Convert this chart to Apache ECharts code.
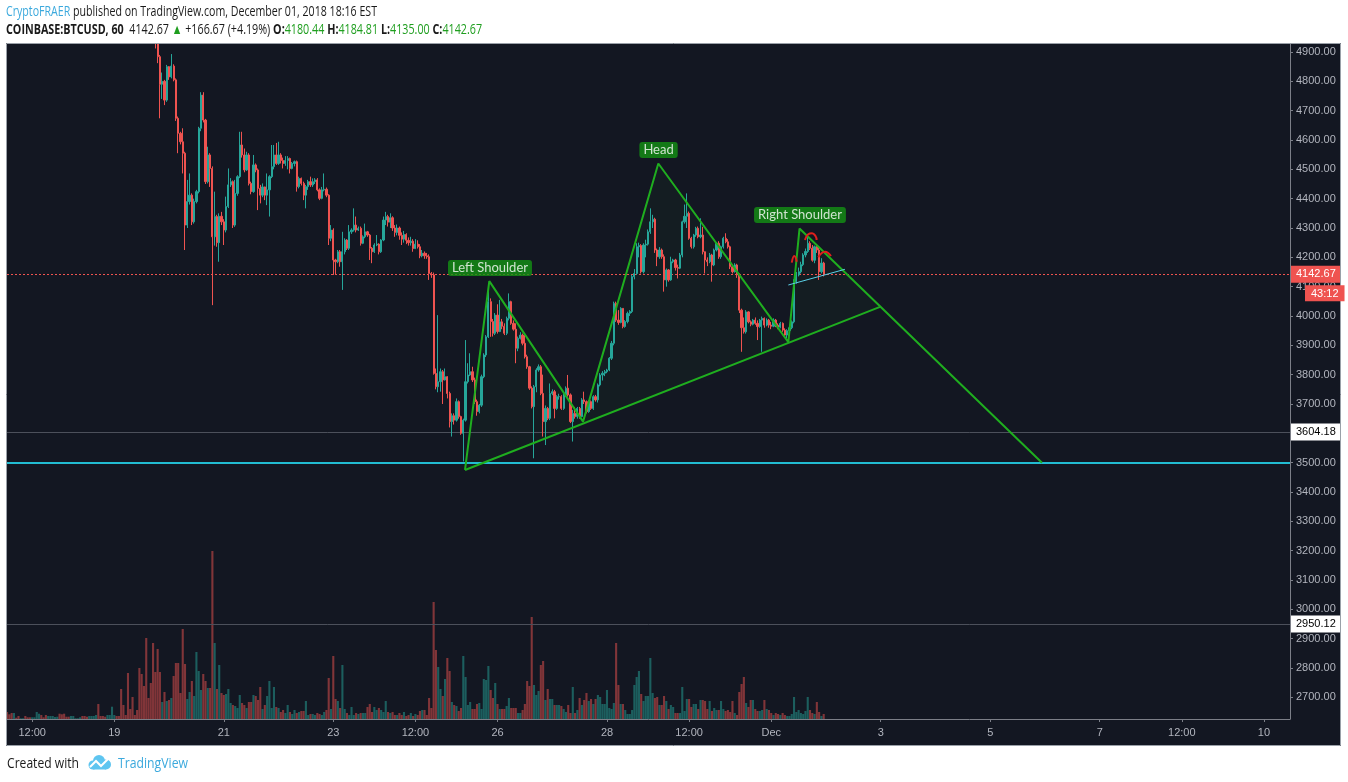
<!DOCTYPE html>
<html>
<head>
<meta charset="utf-8">
<script src="https://cdn.jsdelivr.net/npm/echarts@6/dist/echarts.min.js"></script>
<style>
html,body{margin:0;padding:0;background:#fff;}
#chart{width:1348px;height:782px;}
</style>
</head>
<body>
<div id="chart"></div>
<script>
// ---------- DATA ----------
// hourly candles, COINBASE:BTCUSD, first candle = Nov 17 01:00 (hour -47 relative to Nov 19 00:00)
const START_HOUR = -47;
const FIRST_OPEN = 5605;
const closes = [
 5600,5596,5590,5594,5588,5582,5585,5590,5587,5580,5576,5579,5584,5590,5595,5592,5586,5580,5583,5589,
 5594,5598,5603,5600,5595,5590,5586,5580,5584,5590,5597,5604,5610,5606,5600,5596,5602,5608,5615,5620,
 5616,5610,5605,5600,5606,5612,5618,
 5622,5615,5608,5600,5560,5520,5480,5450,5420,5380,5330,5270,5200,5150,5100,5060,5020,4985,
 4930,4884,4790,4800,4736,4850,4815,4852,4805,4674,
 4623,4594,4555,4310,4390,4412,4321,4390,4424,4640,
 4753,4668,4458,4549,4503,4270,4339,4250,4340,4321,
 4293,4373,4447,4458,4310,4418,4475,4583,4549,4498,
 4549,4452,4424,4515,4498,4435,4412,4440,4412,4430,
 4475,4509,4549,4520,4549,4530,4520,4530,4537,4503,
 4520,4526,4441,4469,4452,4412,4441,4458,4447,4458,
 4464,4430,4401,4430,4432,4412,4265,4293,4191,4185,
 4219,4185,4219,4259,4231,4287,4293,4310,4293,4299,
 4248,4270,4287,4276,4231,4219,4242,4245,4219,4259,
 4327,4339,4320,4335,4300,4285,4300,4275,4262,4278,
 4258,4250,4255,4230,4245,4236,4205,4214,4205,4202,
 4145,4140,3804,3759,3776,3810,3782,3793,3736,3640,
 3660,3645,3708,3657,3600,3645,3776,3799,3810,3782,
 3708,3674,3696,3793,3867,3929,4049,3981,3941,4003,
 3947,3980,3965,3941,3992,4049,3975,3955,3890,3924,
 3935,3907,3861,3827,3754,3691,3759,3816,3827,3736,
 3640,3685,3651,3736,3742,3685,3725,3725,3685,3731,
 3754,3731,3640,3668,3657,3685,3657,3714,3708,3674,
 3708,3685,3725,3714,3765,3799,3805,3810,3816,3856,
 3907,4043,3986,3978,4026,3964,3981,4009,4015,4134,
 4145,4236,4240,4151,4242,4245,4287,4321,4330,4225,
 4202,4225,4202,4123,4157,4123,4185,4191,4165,4163,
 4208,4321,4340,4350,4265,4236,4276,4299,4270,4276,
 4219,4191,4185,4208,4174,4225,4248,4202,4236,4265,
 4253,4236,4168,4151,4174,4140,4020,3960,3946,4014,
 3980,3972,3986,3975,3964,3986,3992,3969,3986,3969,
 3965,3986,3969,3962,3975,3952,3935,3950,3960,3980,
 4117,4140,4151,4175,4208,4220,4248,4231,4190,4236,
 4225,4151,4180.44,4142.67
];
const highs = [
 5612,5606,5601,5600,5599,5592,5591,5596,5595,5591,5585,5586,5590,5596,5602,5600,5597,5590,5589,5594,
 5600,5605,5610,5608,5604,5599,5595,5590,5590,5596,5603,5610,5618,5615,5610,5605,5608,5614,5620,5628,
 5625,5620,5614,5610,5612,5618,5625,
 5630,5626,5618,5612,5605,5565,5530,5490,5460,5430,5390,5340,5280,5215,5160,5110,5070,5030,
 4995,4940,4890,4830,4805,4856,4852,4893,4858,4810,
 4680,4628,4640,4560,4464,4486,4418,4400,4430,4645,
 4763,4763,4672,4577,4555,4510,4424,4345,4350,4355,
 4330,4407,4503,4470,4462,4464,4480,4628,4628,4571,
 4560,4555,4458,4549,4520,4503,4447,4452,4441,4486,
 4480,4583,4583,4590,4594,4555,4540,4545,4545,4540,
 4525,4530,4530,4475,4472,4458,4447,4464,4475,4469,
 4470,4470,4435,4440,4486,4438,4415,4310,4299,4195,
 4225,4225,4287,4265,4262,4310,4299,4367,4339,4305,
 4305,4275,4315,4290,4280,4235,4248,4276,4248,4262,
 4339,4355,4345,4350,4340,4310,4312,4305,4285,4290,
 4282,4268,4270,4262,4262,4258,4245,4225,4220,4215,
 4210,4150,4148,3821,4003,3821,3816,3821,3795,3742,
 3668,3668,3719,3712,3660,3650,3918,3839,3873,3827,
 3790,3715,3700,3800,3873,3935,4089,4060,3990,4010,
 4040,4055,3990,3975,3998,4077,4052,3985,3975,3930,
 3945,3940,3935,3868,3830,3760,3765,3822,3835,3833,
 3800,3695,3690,3770,3750,3748,3730,3735,3730,3736,
 3760,3799,3736,3680,3690,3690,3690,3720,3742,3712,
 3712,3712,3730,3731,3770,3805,3812,3816,3820,3860,
 3915,4049,4049,4020,4030,4026,3986,4015,4020,4140,
 4160,4248,4250,4245,4248,4260,4295,4367,4345,4335,
 4230,4235,4230,4210,4162,4160,4202,4195,4195,4175,
 4215,4325,4380,4418,4356,4270,4280,4304,4305,4333,
 4304,4220,4200,4215,4212,4230,4250,4255,4240,4270,
 4282,4262,4240,4175,4180,4178,4145,4025,3995,4020,
 4016,3985,3990,3995,3985,3990,3998,3995,3992,3990,
 3980,3992,3990,3975,3980,3978,3958,3955,3965,3985,
 4125,4150,4165,4185,4214,4230,4276,4255,4242,4240,
 4242,4236,4197,4184.81
];
const lows = [
 5594,5590,5584,5585,5582,5576,5577,5580,5582,5574,5570,5571,5575,5580,5586,5587,5580,5574,5575,5578,
 5584,5590,5593,5595,5590,5584,5580,5572,5575,5580,5586,5592,5600,5600,5594,5590,5591,5597,5603,5610,
 5611,5605,5598,5594,5595,5601,5607,
 5612,5608,5600,5590,5550,5510,5470,5440,5405,5370,5320,5255,5190,5135,5090,5045,5005,4970,
 4912,4862,4674,4740,4719,4730,4805,4810,4800,4665,
 4555,4585,4486,4225,4300,4380,4310,4315,4384,4418,
 4630,4660,4450,4452,4440,4037,4240,4236,4185,4310,
 4242,4285,4368,4440,4300,4304,4410,4470,4540,4490,
 4495,4445,4415,4420,4490,4361,4384,4405,4395,4378,
 4339,4470,4500,4515,4515,4520,4503,4512,4500,4486,
 4500,4510,4424,4435,4445,4395,4367,4430,4440,4440,
 4450,4425,4395,4398,4425,4405,4242,4255,4140,4140,
 4180,4168,4089,4210,4225,4225,4280,4288,4285,4290,
 4240,4245,4265,4270,4191,4180,4215,4238,4210,4215,
 4255,4310,4305,4300,4290,4270,4275,4260,4242,4250,
 4245,4240,4240,4219,4228,4230,4197,4200,4195,4195,
 4123,4130,3800,3750,3740,3742,3700,3780,3719,3620,
 3589,3630,3640,3650,3595,3504,3640,3770,3795,3775,
 3700,3660,3668,3690,3788,3860,3925,3929,3930,3935,
 3940,3945,3955,3935,3935,3985,3970,3950,3839,3880,
 3920,3900,3855,3820,3748,3685,3515,3740,3810,3730,
 3589,3560,3645,3645,3730,3651,3680,3715,3680,3680,
 3725,3725,3635,3572,3650,3650,3650,3655,3700,3668,
 3670,3680,3680,3708,3705,3760,3780,3795,3805,3812,
 3850,3900,3980,3970,3975,3958,3960,3975,4000,4010,
 4125,4140,4200,4145,4145,4200,4240,4280,4300,4215,
 4170,4195,4195,4083,4100,4117,4120,4180,4155,4128,
 4160,4200,4315,4300,4260,4230,4230,4270,4265,4265,
 4210,4145,4170,4180,4117,4170,4220,4195,4195,4230,
 4248,4230,4160,4145,4148,4130,4010,3878,3940,3940,
 3975,3965,3968,3970,3918,3960,3878,3960,3965,3960,
 3955,3962,3962,3955,3958,3946,3925,3925,3945,3955,
 3975,4110,4135,4145,4170,4200,4215,4225,4185,4180,
 4215,4123,4145,4135
];
const volumes = [
 70,47,60,60,13,30,7,
 7,30,17,17,17,17,70,53,40,17,40,30,30,30,20,23,53,47,53,23,23,30,30,7,
 7,17,30,30,23,30,30,30,40,150,30,30,23,40,40,123,40,30,30,300,140,40,460,100,220,40,90,510,450,330,
 810,210,360,760,470,700,470,170,270,180,190,210,430,560,560,260,900,550,200,270,380,230,670,480,290,450,380,310,310,1680,
 760,300,540,260,240,250,300,160,140,130,110,240,160,140,110,170,170,240,230,190,
 320,100,140,230,380,110,320,120,110,70,90,60,140,70,50,90,60,70,80,80,
 180,40,50,50,40,60,50,40,70,90,410,100,
 630,200,180,110,540,100,60,40,120,40,60,50,60,60,60,120,150,70,120,90,
 110,90,70,180,70,60,70,40,40,60,40,70,30,
 40,60,30,50,40,80,90,90,40,210,110,1170,690,520,300,230,400,610,480,170,
 140,130,80,110,630,420,140,170,100,100,150,160,100,400,390,530,290,210,360,150,
 100,100,100,130,210,110,110,110,60,60,90,150,380,330,1020,340,240,280,540,580,
 190,300,200,200,140,140,140,130,100,70,140,60,320,60,90,210,140,190,260,180,
 200,150,200,240,220,150,150,290,110,100,160,760,340,150,150,90,50,50,90,340,
 420,480,250,180,230,230,610,260,210,220,140,140,230,180,100,140,120,60,60,60,
 320,80,200,200,120,150,150,100,190,190,180,100,180,80,110,90,90,180,100,80,
 90,70,180,60,40,270,350,420,160,120,190,190,100,80,80,90,190,100,90,60,
 40,60,50,40,60,40,30,30,50,
 220,70,90,60,50,80,220,90,60,50,170,70,30,50
];

// axis ticks
const xTickHours  = [-36, 0, 48, 96, 132, 168, 216, 252, 288, 336, 384, 432, 468, 504];
const xTickLabels = ['12:00','19','21','23','12:00','26','28','12:00','Dec','3','5','7','12:00','10'];
const yTicks = [2700,2800,2900,3000,3100,3200,3300,3400,3500,3600,3700,3800,3900,4000,4100,4200,4300,4400,4500,4600,4700,4800,4900];

// horizontal price levels
const lastPrice = 4142.67;
const countdown = '43:12';
const grayLevels = [3604.18, 2950.12];
const supportLevel = 3500;

// head & shoulders drawing (hour, price)
const hsHours  = [153.75, 164.4, 205.5, 238.5, 295.5, 300.4, 406.7];
const hsPrices = [3475, 4119, 3640, 4520, 3911, 4298, 3500];
const neckHours  = [153.75, 335.7];
const neckPrices = [3475, 4031];
const labelTexts  = ['Left Shoulder', 'Head', 'Right Shoulder'];
const labelHours  = [164.7, 238.6, 300.6];
const labelPrices = [4163.6, 4565.9, 4344.3];
// small red marks & cyan trendline near right shoulder
const arc1Hours = [297.0, 298.1, 299.2];               const arc1Prices = [4181.7, 4204.5, 4185];
const arc2Hours = [302.8, 304.1, 305.9, 307.4, 307.9]; const arc2Prices = [4259, 4277.8, 4282, 4272.7, 4259];
const arc3Hours = [308.6, 311.6, 314.2];               const arc3Prices = [4200, 4219, 4204.5];
const cyanHours = [295.5, 320.3];                      const cyanPrices = [4105.7, 4159.2];

// header / footer texts
const headerLine1 = '{u|CryptoFRAER} published on TradingView.com, December 01, 2018 18:16 EST';
const headerLine2 = '{b|COINBASE:BTCUSD, 60}  4142.67 {g|▲} +166.67 (+4.19%) {b|O:}{g|4180.44} {b|H:}{g|4184.81} {b|L:}{g|4135.00} {b|C:}{g|4142.67}';
const footerText = 'Created with';
const footerBrand = 'TradingView';

// ---------- BUILD ----------
const UP = '#26a69a', DOWN = '#ef5350';
const candleData = [], volData = [];
for (let i = 0; i < closes.length; i++) {
  const o = i === 0 ? FIRST_OPEN : closes[i - 1];
  const c = closes[i];
  const h = START_HOUR + i;
  candleData.push([h, o, c, lows[i], highs[i]]);
  volData.push({ value: [h, volumes[i]], itemStyle: { color: c >= o ? 'rgba(38,166,154,0.5)' : 'rgba(239,83,80,0.5)' } });
}
const zip = (a, b) => a.map((v, i) => [v, b[i]]);

const X_MIN = -47.04, X_MAX = 515.43;
const Y_MIN = 2626.1, Y_MAX = 4930.7;
const AXIS_TXT = '#b2b5be';
const AXIS_LINE = '#7c7f88';
const FONT = '"Liberation Sans", Arial, sans-serif';
const HFONT = '"Open Sans", "Noto Sans", sans-serif';

// horizontal fit of header texts (TradingView uses a narrow face)
const mctx = document.createElement('canvas').getContext('2d');
function fitScale(plain, px, weight, target) {
  mctx.font = (weight || 'normal') + ' ' + px + 'px ' + HFONT;
  return target / mctx.measureText(plain).width;
}
const strip = s => s.replace(/\{[a-z]\|/g, '').replace(/\}/g, '');
const s1 = fitScale(strip(headerLine1), 14, 'normal', 371);
const s2 = fitScale(strip(headerLine2), 14, 'normal', 470);
const s3 = fitScale(footerText, 14, 'normal', 72);
const s4 = fitScale(footerBrand, 14, 'normal', 70);

const hsPoly = zip(hsHours.slice(0, 6), hsPrices.slice(0, 6)).concat([[neckHours[1], neckPrices[1]]]);

const tagLabel = (bg, fg, txt) => ({
  show: true, position: 'end', distance: 1, formatter: txt,
  backgroundColor: bg, color: fg, fontSize: 11, fontFamily: FONT,
  padding: [3, 6, 2, 5], lineHeight: 12
});

const chart = echarts.init(document.getElementById('chart'), null, { renderer: 'canvas' });
const graphics = [
  { type: 'rect', silent: true, z: 100, shape: { x: 0, y: 0, width: 1348, height: 43 }, style: { fill: '#ffffff' } },
  { type: 'rect', silent: true, z: 100, shape: { x: 0, y: 746, width: 1348, height: 36 }, style: { fill: '#ffffff' } },
  { type: 'rect', silent: true, z: 100, shape: { x: 0, y: 0, width: 6, height: 782 }, style: { fill: '#ffffff' } },
  { type: 'rect', silent: true, z: 100, shape: { x: 1341, y: 0, width: 7, height: 782 }, style: { fill: '#ffffff' } },
  { type: 'rect', silent: true, z: 101, shape: { x: 6.5, y: 43.5, width: 1334, height: 702 }, style: { fill: 'none', stroke: '#9aa0a8', lineWidth: 1 } },
  {
    type: 'text', silent: true, z: 102, x: 6, y: 12, scaleX: s1,
    style: {
      text: headerLine1, fill: '#1a1a1a', fontSize: 14, fontFamily: HFONT, verticalAlign: 'middle',
      rich: { u: { fill: '#3ba9dd', fontSize: 14, fontFamily: HFONT } }
    }
  },
  {
    type: 'text', silent: true, z: 102, x: 6, y: 30, scaleX: s2,
    style: {
      text: headerLine2, fill: '#1a1a1a', fontSize: 14, fontFamily: HFONT, verticalAlign: 'middle',
      rich: {
        b: { fill: '#1a1a1a', fontWeight: 'bold', fontSize: 14, fontFamily: HFONT },
        g: { fill: '#1f9e1f', fontSize: 14, fontFamily: HFONT }
      }
    }
  },
  {
    type: 'text', silent: true, z: 102, x: 7, y: 764, scaleX: s3,
    style: { text: footerText, fill: '#1a1a1a', fontSize: 14, fontFamily: HFONT, verticalAlign: 'middle' }
  },
  // TradingView cloud logo
  { type: 'circle', silent: true, z: 102, shape: { cx: 93, cy: 765, r: 4.5 }, style: { fill: '#5ec5f0' } },
  { type: 'circle', silent: true, z: 102, shape: { cx: 99, cy: 761, r: 6 }, style: { fill: '#5ec5f0' } },
  { type: 'circle', silent: true, z: 102, shape: { cx: 106, cy: 764.5, r: 5 }, style: { fill: '#5ec5f0' } },
  { type: 'rect', silent: true, z: 102, shape: { x: 93, y: 764, width: 13, height: 5.5 }, style: { fill: '#5ec5f0' } },
  {
    type: 'polyline', silent: true, z: 103,
    shape: { points: [[90, 767], [96, 761], [101, 766], [108, 759]] },
    style: { stroke: '#ffffff', lineWidth: 2, fill: null }
  },
  {
    type: 'text', silent: true, z: 102, x: 118, y: 764, scaleX: s4,
    style: { text: footerBrand, fill: '#3ba9dd', fontSize: 14, fontFamily: HFONT, verticalAlign: 'middle' }
  }
];

const option = {
  animation: false,
  backgroundColor: '#131722',
  grid: { left: 7, right: 58, top: 43, bottom: 63 },
  xAxis: {
    type: 'value', min: X_MIN, max: X_MAX,
    axisLine: { show: true, onZero: false, lineStyle: { color: AXIS_LINE } },
    axisTick: { show: true, customValues: xTickHours, length: 3, lineStyle: { color: AXIS_LINE } },
    axisLabel: {
      customValues: xTickHours, color: AXIS_TXT, fontSize: 11, fontFamily: FONT, margin: 8,
      formatter: v => { const k = xTickHours.indexOf(v); return k >= 0 ? xTickLabels[k] : ''; }
    },
    splitLine: { show: false }
  },
  yAxis: [{
    type: 'value', position: 'right', min: Y_MIN, max: Y_MAX,
    axisLine: { show: true, onZero: false, lineStyle: { color: AXIS_LINE } },
    axisTick: { show: true, customValues: yTicks, length: 3, lineStyle: { color: AXIS_LINE } },
    axisLabel: { customValues: yTicks, color: AXIS_TXT, fontSize: 11, fontFamily: FONT, margin: 6, formatter: v => v.toFixed(2) },
    splitLine: { show: false }
  }, {
    type: 'value', min: 0, max: 6760, show: false,
    axisLine: { show: false, onZero: false }
  }],
  series: [
    { type: 'bar', yAxisIndex: 1, data: volData, barWidth: 2.1, silent: true, z: 1 },
    {
      type: 'custom', silent: true, z: 1, clip: true,
      data: [[hsHours[0], hsPrices[0]]],
      renderItem: (params, api) => ({
        type: 'polygon',
        shape: { points: hsPoly.map(p => api.coord(p)) },
        style: { fill: 'rgba(40,190,40,0.04)' }
      })
    },
    {
      type: 'candlestick', data: candleData, barWidth: 1.7, clip: true, z: 3,
      encode: { x: 0, y: [1, 2, 3, 4] },
      itemStyle: { color: UP, color0: DOWN, borderColor: UP, borderColor0: DOWN, borderWidth: 1 },
      markLine: {
        symbol: 'none', silent: true, animation: false, z: 2,
        data: [
          { yAxis: supportLevel, lineStyle: { color: '#22bcd2', width: 2, type: 'solid' }, label: { show: false } },
          { yAxis: grayLevels[0], lineStyle: { color: '#4c505b', width: 1, type: 'solid' }, label: tagLabel('#ffffff', '#000000', grayLevels[0].toFixed(2)) },
          { yAxis: grayLevels[1], lineStyle: { color: '#4c505b', width: 1, type: 'solid' }, label: tagLabel('#ffffff', '#000000', grayLevels[1].toFixed(2)) },
          { yAxis: lastPrice, lineStyle: { color: '#ef5350', width: 1, type: [2, 2] }, label: tagLabel('#ef5350', '#ffffff', lastPrice.toFixed(2)) }
        ]
      }
    },
    { type: 'line', data: zip(neckHours, neckPrices), showSymbol: false, silent: true, z: 5, lineStyle: { color: '#1fae1f', width: 2 } },
    { type: 'line', data: zip(hsHours, hsPrices), showSymbol: false, silent: true, z: 5, lineStyle: { color: '#1fae1f', width: 2 } },
    { type: 'line', data: zip(cyanHours, cyanPrices), showSymbol: false, silent: true, z: 5, lineStyle: { color: '#5ad0e6', width: 1 } },
    { type: 'line', data: zip(arc1Hours, arc1Prices), showSymbol: false, silent: true, z: 5, smooth: true, lineStyle: { color: '#e0201c', width: 2 } },
    { type: 'line', data: zip(arc2Hours, arc2Prices), showSymbol: false, silent: true, z: 5, smooth: true, lineStyle: { color: '#e0201c', width: 2 } },
    { type: 'line', data: zip(arc3Hours, arc3Prices), showSymbol: false, silent: true, z: 5, smooth: true, lineStyle: { color: '#e0201c', width: 2 } },
    {
      type: 'scatter', silent: true, z: 6, symbolSize: 1, itemStyle: { color: 'rgba(0,0,0,0)' },
      data: labelTexts.map((t, i) => [labelHours[i], labelPrices[i], t]),
      label: {
        show: true, position: 'inside', formatter: p => p.data[2],
        color: '#ffffff', backgroundColor: '#149214', borderRadius: 3,
        padding: [2, 4, 1, 4], fontSize: 13, fontFamily: 'Lato, "Open Sans", sans-serif'
      }
    }
  ],
  graphic: graphics
};
chart.setOption(option);

// countdown tag under the last-price tag
const yLast = chart.convertToPixel({ yAxisIndex: 0 }, lastPrice);
chart.setOption({
  graphic: graphics.concat([{
    type: 'text', silent: true, z: 110, x: 1305, y: yLast + 11,
    style: {
      text: countdown, fill: '#ffffff', backgroundColor: '#ef5350', fontSize: 11, fontFamily: FONT,
      padding: [3, 6, 2, 6], verticalAlign: 'top'
    }
  }])
});
</script>
</body>
</html>
